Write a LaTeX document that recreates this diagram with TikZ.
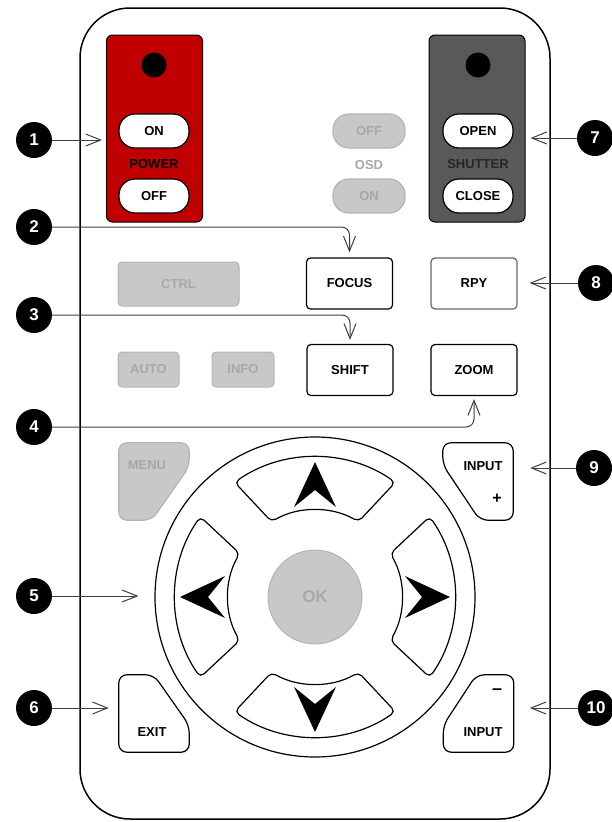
\documentclass[tikz,border=0pt]{standalone}
\usepackage{fontspec}
\setmainfont{Liberation Sans}
\usetikzlibrary{arrows.meta,positioning,calc}
\definecolor{rcRed}{HTML}{C00000}
\definecolor{rcDark}{HTML}{595959}
\definecolor{rcGrey}{HTML}{C8C8C8}
\definecolor{rcGreyLine}{HTML}{B4B4B4}
\definecolor{rcGreyText}{HTML}{A8A8A8}
\definecolor{rcLead}{HTML}{404040}
\tikzset{
  rcnode/.style={draw, inner sep=0pt, font=\fontsize{13}{13}\selectfont\bfseries, align=center},
  pill/.style={rcnode, fill=white, line width=1.2pt, rounded corners=16pt, minimum width=70pt, minimum height=34pt},
  ghostpill/.style={pill, fill=rcGrey, draw=rcGreyLine, text=rcGreyText, minimum width=72pt},
  panel/.style={rcnode, line width=1pt, rounded corners=6pt, minimum width=96pt, minimum height=187pt},
  led/.style={circle, fill=black, inner sep=0pt, minimum size=25pt},
  keybox/.style={rcnode, fill=white, line width=1.2pt, rounded corners=4pt, minimum width=86pt, minimum height=51pt},
  ghostkey/.style={rcnode, fill=rcGrey, draw=rcGreyLine, text=rcGreyText, line width=1pt, rounded corners=4pt},
  shapebox/.style={inner sep=0pt, minimum width=70pt, minimum height=77pt},
  outline/.style={line width=1.2pt, rounded corners=8pt},
  callout/.style={circle, fill=black, inner sep=0pt, minimum size=36pt, text=white, font=\fontsize{17}{17}\selectfont\bfseries},
  lead/.style={-{Straight Barb[length=15pt,width=12pt]}, rcLead, line width=1pt},
  tag/.style={inner sep=0pt, font=\fontsize{13}{13}\selectfont\bfseries}
}
\begin{document}
\begin{tikzpicture}[x=1pt, y=-1pt]
  \useasboundingbox (0,0) rectangle (612,822);
  % remote body
  \draw[line width=1.5pt, rounded corners=50pt] (80,8) rectangle (550,819);

  % power and shutter panels
  \node[panel, fill=rcRed] (power) at (154.5,128.5) {};
  \node[led] (powerled) at (154,65) {};
  \node[pill] (pon) at (154,131) {ON};
  \node[tag] (powerlbl) at (154,164) {POWER};
  \node[pill] (poff) at (154,196) {OFF};

  \node[panel, fill=rcDark] (shutter) at (477,128.5) {};
  \node[led] (shutterled) at (478,65) {};
  \node[pill] (sopen) at (478,131) {OPEN};
  \node[tag, text=black!85] (shutterlbl) at (478,164) {SHUTTER};
  \node[pill] (sclose) at (478,196) {CLOSE};

  \node[ghostpill] (osdoff) at (369,131) {OFF};
  \node[tag, text=rcGreyText] (osdlbl) at (369,165) {OSD};
  \node[ghostpill] (osdon) at (369,196) {ON};

  % keys
  \node[ghostkey, minimum width=121pt, minimum height=44pt] (ctrl) at (178.5,284) {CTRL};
  \node[keybox] (focus) at (349.5,283.5) {FOCUS};
  \node[keybox, draw=black!60] (rpy) at (474,283.5) {RPY};
  \node[ghostkey, minimum width=61pt, minimum height=35pt] (auto) at (148.5,369.5) {AUTO};
  \node[ghostkey, minimum width=62pt, minimum height=35pt] (info) at (243,369.5) {INFO};
  \node[keybox] (shift) at (350,370) {SHIFT};
  \node[keybox] (zoom) at (474,370) {ZOOM};

  % side keys
  \node[shapebox] (menu) at (154,481.5) {};
  \draw[outline, fill=rcGrey, draw=rcGreyLine] (menu.north west) -- (menu.north east)
    -- ($(menu.north east)+(0,24)$) -- ($(menu.south west)+(33,0)$) -- (menu.south west) -- cycle;
  \node[tag, text=rcGreyText] (menutxt) at (147,465) {MENU};

  \node[shapebox] (inplus) at (478,481.5) {};
  \draw[outline, fill=white] (inplus.north west) -- (inplus.north east) -- (inplus.south east)
    -- ($(inplus.south west)+(37,0)$) -- ($(inplus.north west)+(0,22)$) -- cycle;
  \node[tag] (inplustxt) at (483,466) {INPUT};
  \node[tag, font=\fontsize{16}{16}\selectfont\bfseries] (plus) at (497,499) {+};

  \node[shapebox] (exit) at (154,713.5) {};
  \draw[outline, fill=white] (exit.north west) -- ($(exit.north west)+(35,0)$)
    -- ($(exit.south east)+(0,-27)$) -- (exit.south east) -- (exit.south west) -- cycle;
  \node[tag] (exittxt) at (152,732) {EXIT};

  \node[shapebox] (inminus) at (478.5,713.5) {};
  \draw[outline, fill=white] (inminus.south west) -- ($(inminus.south west)+(0,-27)$)
    -- ($(inminus.north west)+(33,0)$) -- (inminus.north east) -- (inminus.south east) -- cycle;
  \node[tag, font=\fontsize{18}{18}\selectfont\bfseries] (minus) at (497,692) {--};
  \node[tag] (inminustxt) at (483,732) {INPUT};

  % direction pad
  \node[circle, draw, line width=1.2pt, minimum size=320pt, inner sep=0pt] (dpad) at (315,597) {};
  \begin{scope}[shift={(dpad.center)}]
    \foreach \a in {0,90,180,270}{
      \draw[line width=1.2pt, rounded corners=5pt, fill=white]
        (\a-35:140) arc[start angle=\a-35, end angle=\a+35, radius=140]
        -- (\a+30:87) arc[start angle=\a+30, end angle=\a-30, radius=87] -- cycle;
      \fill (\a:135) -- (\a+13.1:92.4) -- (\a:107) -- (\a-13.1:92.4) -- cycle;
    }
  \end{scope}
  \node[circle, fill=rcGrey, draw=rcGreyLine, text=rcGreyText, line width=1pt, minimum size=94pt,
    inner sep=0pt, font=\fontsize{17}{17}\selectfont\bfseries] (ok) at (dpad.center) {OK};

  % callouts
  \node[callout] (c1) at (34,140) {1};
  \node[callout] (c2) at (34,227) {2};
  \node[callout] (c3) at (34,315) {3};
  \node[callout] (c4) at (34,427) {4};
  \node[callout] (c5) at (34,596) {5};
  \node[callout] (c6) at (34,708) {6};
  \node[callout] (c7) at (595,138) {7};
  \node[callout] (c8) at (596,283) {8};
  \node[callout] (c9) at (594,468) {9};
  \node[callout] (c10) at (596,708) {10};

  \draw[lead, shorten >=4pt] (c1) -- (c1 -| power.west);
  \draw[lead, rounded corners=8pt, shorten >=5pt] (c2) -| (focus.north);
  \draw[lead, rounded corners=8pt, shorten >=4pt] (c3) -| (shift.north);
  \draw[lead, rounded corners=8pt, shorten >=3pt] (c4) -| (zoom.south);
  \draw[lead, shorten >=16pt] (c5) -- (c5 -| dpad.west);
  \draw[lead, shorten >=10pt] (c6) -- (c6 -| exit.west);
  \draw[lead, shorten >=5pt] (c7) -- (c7 -| shutter.east);
  \draw[lead, shorten >=12pt] (c8) -- (c8 -| rpy.east);
  \draw[lead, shorten >=17pt] (c9) -- (c9 -| inplus.east);
  \draw[lead, shorten >=16pt] (c10) -- (c10 -| inminus.east);
\end{tikzpicture}
\end{document}
